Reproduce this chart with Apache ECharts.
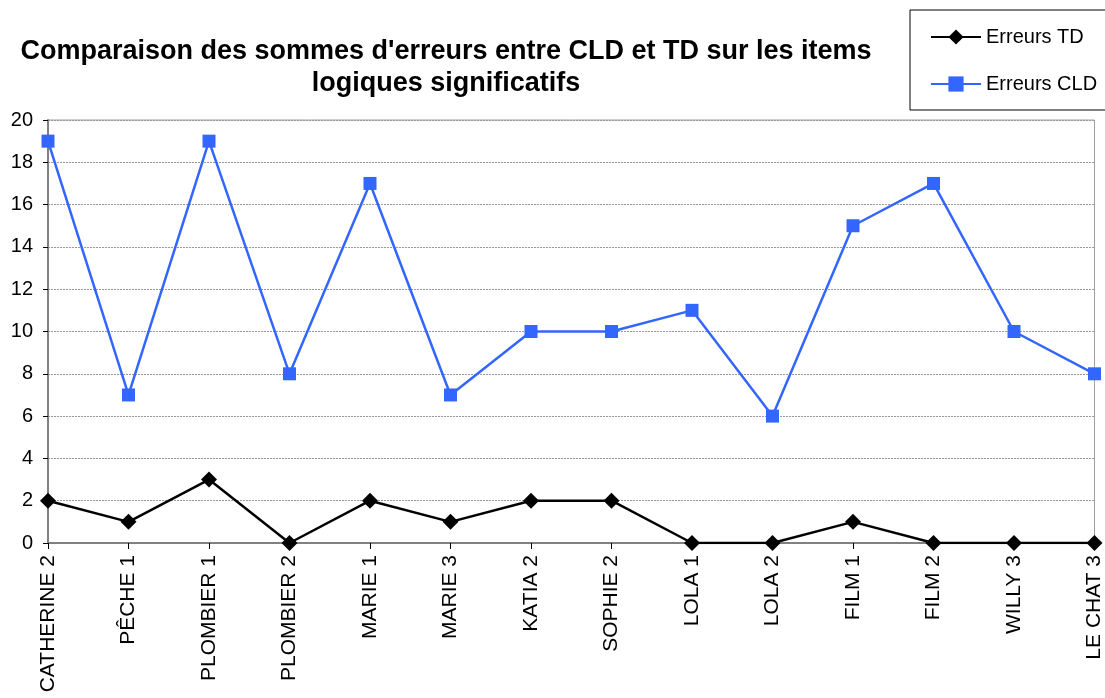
<!DOCTYPE html>
<html>
<head>
<meta charset="utf-8">
<script src="https://cdn.jsdelivr.net/npm/echarts@6/dist/echarts.min.js"></script>
<style>
  html, body { margin: 0; padding: 0; background: #fff; }
  #chart { width: 1105px; height: 698px; }
</style>
</head>
<body>
<div id="chart"></div>
<script>
var categories = ["CATHERINE 2", "PÊCHE 1", "PLOMBIER 1", "PLOMBIER 2", "MARIE 1", "MARIE 3", "KATIA 2",
  "SOPHIE 2", "LOLA 1", "LOLA 2", "FILM 1", "FILM 2", "WILLY 3", "LE CHAT 3"];
var erreursTD = [2, 1, 3, 0, 2, 1, 2, 2, 0, 0, 1, 0, 0, 0];
var erreursCLD = [19, 7, 19, 8, 17, 7, 10, 10, 11, 6, 15, 17, 10, 8];

var font = "'Liberation Sans', Arial, sans-serif";
var chart = echarts.init(document.getElementById("chart"));

chart.setOption({
  animation: false,
  backgroundColor: "#fff",
  title: {
    text: "Comparaison des sommes d'erreurs entre CLD et TD sur les items\nlogiques significatifs",
    left: 441,
    top: 31,
    textAlign: "center",
    textStyle: {
      fontFamily: font,
      fontSize: 27,
      fontWeight: "bold",
      color: "#000",
      lineHeight: 32
    }
  },
  legend: {
    orient: "vertical",
    left: 910,
    top: 10,
    padding: [17, 30, 16, 20],
    itemGap: 27,
    itemWidth: 50,
    itemHeight: 19,
    borderColor: "#000",
    borderWidth: 1,
    textStyle: { fontFamily: font, fontSize: 20, color: "#000" },
    data: ["Erreurs TD", "Erreurs CLD"]
  },
  grid: {
    left: 48,
    right: 8,
    top: 120,
    bottom: 155,
    show: true,
    borderColor: "#a0a0a0",
    borderWidth: 1
  },
  xAxis: {
    type: "category",
    data: categories,
    boundaryGap: false,
    axisLine: { lineStyle: { color: "#808080", width: 2 } },
    axisTick: { show: true, length: 6, lineStyle: { color: "#000" } },
    axisLabel: {
      rotate: 90,
      interval: 0,
      margin: 12,
      fontFamily: font,
      fontSize: 21,
      color: "#000"
    },
    splitLine: { show: false }
  },
  yAxis: {
    type: "value",
    min: 0,
    max: 20,
    interval: 2,
    axisLine: { show: true, lineStyle: { color: "#808080", width: 2 } },
    axisTick: { show: true, length: 5, lineStyle: { color: "#000" } },
    axisLabel: { fontFamily: font, fontSize: 20, color: "#000", margin: 15 },
    splitLine: { lineStyle: { color: "#999", type: [2, 1], width: 1 } }
  },
  series: [
    {
      name: "Erreurs TD",
      type: "line",
      data: erreursTD,
      symbol: "diamond",
      symbolSize: 16,
      itemStyle: { color: "#000" },
      lineStyle: { color: "#000", width: 2.5 }
    },
    {
      name: "Erreurs CLD",
      type: "line",
      data: erreursCLD,
      symbol: "rect",
      symbolSize: 13,
      itemStyle: { color: "#3366ff" },
      lineStyle: { color: "#3366ff", width: 2.5 }
    }
  ]
});
</script>
</body>
</html>
